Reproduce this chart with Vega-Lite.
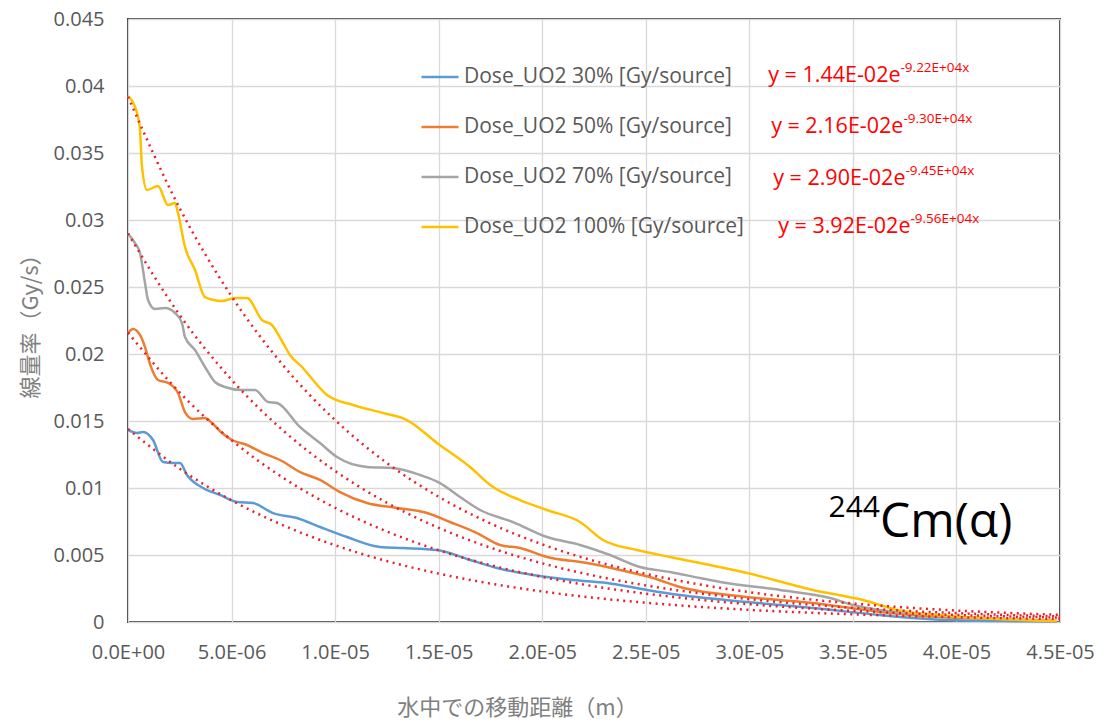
{
  "$schema": "https://vega.github.io/schema/vega-lite/v6.json",
  "width": 932,
  "height": 603,
  "autosize": {"type": "none"},
  "padding": {"left": 128, "top": 19, "right": 48, "bottom": 105},
  "background": "white",
  "config": {
    "view": {"stroke": "#404040", "strokeWidth": 2},
    "axis": {
      "domain": false,
      "ticks": false,
      "labelColor": "#595959",
      "labelFont": "Open Sans",
      "labelFontSize": 20,
      "gridColor": "#d9d9d9",
      "gridWidth": 1.3,
      "titleColor": "#808080",
      "titleFont": "Noto Sans CJK JP",
      "titleFontWeight": "normal",
      "titleFontSize": 22
    },
    "legend": {
      "labelFont": "Open Sans",
      "labelFontSize": 21,
      "labelColor": "#595959",
      "symbolStrokeWidth": 2.5
    }
  },
  "datasets": {
    "lines": [
      {"series": "Dose_UO2 30% [Gy/source]", "x": 0, "y": 0.01433},
      {"series": "Dose_UO2 30% [Gy/source]", "x": 0.435e-6, "y": 0.01410},
      {"series": "Dose_UO2 30% [Gy/source]", "x": 0.724e-6, "y": 0.01418},
      {"series": "Dose_UO2 30% [Gy/source]", "x": 1.207e-6, "y": 0.01358},
      {"series": "Dose_UO2 30% [Gy/source]", "x": 1.690e-6, "y": 0.01194},
      {"series": "Dose_UO2 30% [Gy/source]", "x": 2.173e-6, "y": 0.01187},
      {"series": "Dose_UO2 30% [Gy/source]", "x": 2.511e-6, "y": 0.01187},
      {"series": "Dose_UO2 30% [Gy/source]", "x": 2.849e-6, "y": 0.01097},
      {"series": "Dose_UO2 30% [Gy/source]", "x": 3.621e-6, "y": 0.01000},
      {"series": "Dose_UO2 30% [Gy/source]", "x": 4.442e-6, "y": 0.00948},
      {"series": "Dose_UO2 30% [Gy/source]", "x": 5.263e-6, "y": 0.00896},
      {"series": "Dose_UO2 30% [Gy/source]", "x": 6.035e-6, "y": 0.00888},
      {"series": "Dose_UO2 30% [Gy/source]", "x": 7.001e-6, "y": 0.00813},
      {"series": "Dose_UO2 30% [Gy/source]", "x": 8.160e-6, "y": 0.00776},
      {"series": "Dose_UO2 30% [Gy/source]", "x": 9.270e-6, "y": 0.00709},
      {"series": "Dose_UO2 30% [Gy/source]", "x": 10.574e-6, "y": 0.00634},
      {"series": "Dose_UO2 30% [Gy/source]", "x": 12.167e-6, "y": 0.00560},
      {"series": "Dose_UO2 30% [Gy/source]", "x": 13.278e-6, "y": 0.00552},
      {"series": "Dose_UO2 30% [Gy/source]", "x": 14.919e-6, "y": 0.00537},
      {"series": "Dose_UO2 30% [Gy/source]", "x": 16.513e-6, "y": 0.00463},
      {"series": "Dose_UO2 30% [Gy/source]", "x": 17.816e-6, "y": 0.00403},
      {"series": "Dose_UO2 30% [Gy/source]", "x": 19.555e-6, "y": 0.00351},
      {"series": "Dose_UO2 30% [Gy/source]", "x": 21.486e-6, "y": 0.00313},
      {"series": "Dose_UO2 30% [Gy/source]", "x": 23.128e-6, "y": 0.00291},
      {"series": "Dose_UO2 30% [Gy/source]", "x": 25.059e-6, "y": 0.00239},
      {"series": "Dose_UO2 30% [Gy/source]", "x": 26.652e-6, "y": 0.00201},
      {"series": "Dose_UO2 30% [Gy/source]", "x": 29.887e-6, "y": 0.00149},
      {"series": "Dose_UO2 30% [Gy/source]", "x": 33.074e-6, "y": 0.00104},
      {"series": "Dose_UO2 30% [Gy/source]", "x": 36.309e-6, "y": 0.00052},
      {"series": "Dose_UO2 30% [Gy/source]", "x": 39.544e-6, "y": 0.00015},
      {"series": "Dose_UO2 30% [Gy/source]", "x": 42.103e-6, "y": 0.00007},
      {"series": "Dose_UO2 30% [Gy/source]", "x": 44.855e-6, "y": 0.00004},

      {"series": "Dose_UO2 50% [Gy/source]", "x": 0, "y": 0.02157},
      {"series": "Dose_UO2 50% [Gy/source]", "x": 0.241e-6, "y": 0.02187},
      {"series": "Dose_UO2 50% [Gy/source]", "x": 0.579e-6, "y": 0.02142},
      {"series": "Dose_UO2 50% [Gy/source]", "x": 0.821e-6, "y": 0.02052},
      {"series": "Dose_UO2 50% [Gy/source]", "x": 1.062e-6, "y": 0.01925},
      {"series": "Dose_UO2 50% [Gy/source]", "x": 1.448e-6, "y": 0.01806},
      {"series": "Dose_UO2 50% [Gy/source]", "x": 1.931e-6, "y": 0.01784},
      {"series": "Dose_UO2 50% [Gy/source]", "x": 2.414e-6, "y": 0.01709},
      {"series": "Dose_UO2 50% [Gy/source]", "x": 2.752e-6, "y": 0.01567},
      {"series": "Dose_UO2 50% [Gy/source]", "x": 3.138e-6, "y": 0.01515},
      {"series": "Dose_UO2 50% [Gy/source]", "x": 3.718e-6, "y": 0.01522},
      {"series": "Dose_UO2 50% [Gy/source]", "x": 4.056e-6, "y": 0.01485},
      {"series": "Dose_UO2 50% [Gy/source]", "x": 4.539e-6, "y": 0.01410},
      {"series": "Dose_UO2 50% [Gy/source]", "x": 5.021e-6, "y": 0.01358},
      {"series": "Dose_UO2 50% [Gy/source]", "x": 5.746e-6, "y": 0.01321},
      {"series": "Dose_UO2 50% [Gy/source]", "x": 6.518e-6, "y": 0.01261},
      {"series": "Dose_UO2 50% [Gy/source]", "x": 7.339e-6, "y": 0.01209},
      {"series": "Dose_UO2 50% [Gy/source]", "x": 8.305e-6, "y": 0.01119},
      {"series": "Dose_UO2 50% [Gy/source]", "x": 9.270e-6, "y": 0.01060},
      {"series": "Dose_UO2 50% [Gy/source]", "x": 10.236e-6, "y": 0.00970},
      {"series": "Dose_UO2 50% [Gy/source]", "x": 11.540e-6, "y": 0.00888},
      {"series": "Dose_UO2 50% [Gy/source]", "x": 12.988e-6, "y": 0.00851},
      {"series": "Dose_UO2 50% [Gy/source]", "x": 14.437e-6, "y": 0.00813},
      {"series": "Dose_UO2 50% [Gy/source]", "x": 15.547e-6, "y": 0.00746},
      {"series": "Dose_UO2 50% [Gy/source]", "x": 16.851e-6, "y": 0.00664},
      {"series": "Dose_UO2 50% [Gy/source]", "x": 17.961e-6, "y": 0.00575},
      {"series": "Dose_UO2 50% [Gy/source]", "x": 18.927e-6, "y": 0.00552},
      {"series": "Dose_UO2 50% [Gy/source]", "x": 20.231e-6, "y": 0.00485},
      {"series": "Dose_UO2 50% [Gy/source]", "x": 22.162e-6, "y": 0.00440},
      {"series": "Dose_UO2 50% [Gy/source]", "x": 23.755e-6, "y": 0.00388},
      {"series": "Dose_UO2 50% [Gy/source]", "x": 25.349e-6, "y": 0.00328},
      {"series": "Dose_UO2 50% [Gy/source]", "x": 26.652e-6, "y": 0.00261},
      {"series": "Dose_UO2 50% [Gy/source]", "x": 29.887e-6, "y": 0.00187},
      {"series": "Dose_UO2 50% [Gy/source]", "x": 33.074e-6, "y": 0.00142},
      {"series": "Dose_UO2 50% [Gy/source]", "x": 36.309e-6, "y": 0.00075},
      {"series": "Dose_UO2 50% [Gy/source]", "x": 39.206e-6, "y": 0.00037},
      {"series": "Dose_UO2 50% [Gy/source]", "x": 42.103e-6, "y": 0.00022},
      {"series": "Dose_UO2 50% [Gy/source]", "x": 44.855e-6, "y": 0.00007},

      {"series": "Dose_UO2 70% [Gy/source]", "x": 0, "y": 0.02896},
      {"series": "Dose_UO2 70% [Gy/source]", "x": 0.338e-6, "y": 0.02828},
      {"series": "Dose_UO2 70% [Gy/source]", "x": 0.579e-6, "y": 0.02754},
      {"series": "Dose_UO2 70% [Gy/source]", "x": 0.821e-6, "y": 0.02530},
      {"series": "Dose_UO2 70% [Gy/source]", "x": 0.966e-6, "y": 0.02403},
      {"series": "Dose_UO2 70% [Gy/source]", "x": 1.304e-6, "y": 0.02336},
      {"series": "Dose_UO2 70% [Gy/source]", "x": 1.786e-6, "y": 0.02343},
      {"series": "Dose_UO2 70% [Gy/source]", "x": 2.269e-6, "y": 0.02306},
      {"series": "Dose_UO2 70% [Gy/source]", "x": 2.607e-6, "y": 0.02231},
      {"series": "Dose_UO2 70% [Gy/source]", "x": 2.752e-6, "y": 0.02127},
      {"series": "Dose_UO2 70% [Gy/source]", "x": 3.235e-6, "y": 0.02030},
      {"series": "Dose_UO2 70% [Gy/source]", "x": 3.718e-6, "y": 0.01903},
      {"series": "Dose_UO2 70% [Gy/source]", "x": 4.201e-6, "y": 0.01791},
      {"series": "Dose_UO2 70% [Gy/source]", "x": 4.683e-6, "y": 0.01754},
      {"series": "Dose_UO2 70% [Gy/source]", "x": 5.504e-6, "y": 0.01731},
      {"series": "Dose_UO2 70% [Gy/source]", "x": 6.132e-6, "y": 0.01731},
      {"series": "Dose_UO2 70% [Gy/source]", "x": 6.760e-6, "y": 0.01642},
      {"series": "Dose_UO2 70% [Gy/source]", "x": 7.194e-6, "y": 0.01634},
      {"series": "Dose_UO2 70% [Gy/source]", "x": 8.305e-6, "y": 0.01455},
      {"series": "Dose_UO2 70% [Gy/source]", "x": 9.270e-6, "y": 0.01336},
      {"series": "Dose_UO2 70% [Gy/source]", "x": 10.091e-6, "y": 0.01231},
      {"series": "Dose_UO2 70% [Gy/source]", "x": 11.540e-6, "y": 0.01157},
      {"series": "Dose_UO2 70% [Gy/source]", "x": 12.795e-6, "y": 0.01149},
      {"series": "Dose_UO2 70% [Gy/source]", "x": 14.099e-6, "y": 0.01097},
      {"series": "Dose_UO2 70% [Gy/source]", "x": 15.064e-6, "y": 0.01037},
      {"series": "Dose_UO2 70% [Gy/source]", "x": 16.030e-6, "y": 0.00933},
      {"series": "Dose_UO2 70% [Gy/source]", "x": 16.996e-6, "y": 0.00836},
      {"series": "Dose_UO2 70% [Gy/source]", "x": 18.589e-6, "y": 0.00746},
      {"series": "Dose_UO2 70% [Gy/source]", "x": 20.231e-6, "y": 0.00634},
      {"series": "Dose_UO2 70% [Gy/source]", "x": 21.824e-6, "y": 0.00575},
      {"series": "Dose_UO2 70% [Gy/source]", "x": 23.272e-6, "y": 0.00500},
      {"series": "Dose_UO2 70% [Gy/source]", "x": 24.721e-6, "y": 0.00410},
      {"series": "Dose_UO2 70% [Gy/source]", "x": 26.169e-6, "y": 0.00373},
      {"series": "Dose_UO2 70% [Gy/source]", "x": 27.618e-6, "y": 0.00328},
      {"series": "Dose_UO2 70% [Gy/source]", "x": 28.584e-6, "y": 0.00299},
      {"series": "Dose_UO2 70% [Gy/source]", "x": 31.481e-6, "y": 0.00239},
      {"series": "Dose_UO2 70% [Gy/source]", "x": 33.895e-6, "y": 0.00179},
      {"series": "Dose_UO2 70% [Gy/source]", "x": 35.005e-6, "y": 0.00127},
      {"series": "Dose_UO2 70% [Gy/source]", "x": 36.309e-6, "y": 0.00090},
      {"series": "Dose_UO2 70% [Gy/source]", "x": 38.723e-6, "y": 0.00052},
      {"series": "Dose_UO2 70% [Gy/source]", "x": 42.103e-6, "y": 0.00022},
      {"series": "Dose_UO2 70% [Gy/source]", "x": 44.855e-6, "y": 0.00007},

      {"series": "Dose_UO2 100% [Gy/source]", "x": 0, "y": 0.03925},
      {"series": "Dose_UO2 100% [Gy/source]", "x": 0.435e-6, "y": 0.03799},
      {"series": "Dose_UO2 100% [Gy/source]", "x": 0.579e-6, "y": 0.03672},
      {"series": "Dose_UO2 100% [Gy/source]", "x": 0.676e-6, "y": 0.03396},
      {"series": "Dose_UO2 100% [Gy/source]", "x": 0.917e-6, "y": 0.03224},
      {"series": "Dose_UO2 100% [Gy/source]", "x": 1.448e-6, "y": 0.03254},
      {"series": "Dose_UO2 100% [Gy/source]", "x": 1.931e-6, "y": 0.03112},
      {"series": "Dose_UO2 100% [Gy/source]", "x": 2.269e-6, "y": 0.03127},
      {"series": "Dose_UO2 100% [Gy/source]", "x": 2.414e-6, "y": 0.03052},
      {"series": "Dose_UO2 100% [Gy/source]", "x": 2.752e-6, "y": 0.02799},
      {"series": "Dose_UO2 100% [Gy/source]", "x": 3.235e-6, "y": 0.02627},
      {"series": "Dose_UO2 100% [Gy/source]", "x": 3.718e-6, "y": 0.02425},
      {"series": "Dose_UO2 100% [Gy/source]", "x": 4.539e-6, "y": 0.02396},
      {"series": "Dose_UO2 100% [Gy/source]", "x": 5.166e-6, "y": 0.02418},
      {"series": "Dose_UO2 100% [Gy/source]", "x": 5.746e-6, "y": 0.02418},
      {"series": "Dose_UO2 100% [Gy/source]", "x": 6.470e-6, "y": 0.02254},
      {"series": "Dose_UO2 100% [Gy/source]", "x": 6.953e-6, "y": 0.02216},
      {"series": "Dose_UO2 100% [Gy/source]", "x": 7.484e-6, "y": 0.02082},
      {"series": "Dose_UO2 100% [Gy/source]", "x": 7.822e-6, "y": 0.01993},
      {"series": "Dose_UO2 100% [Gy/source]", "x": 8.401e-6, "y": 0.01903},
      {"series": "Dose_UO2 100% [Gy/source]", "x": 8.932e-6, "y": 0.01806},
      {"series": "Dose_UO2 100% [Gy/source]", "x": 9.608e-6, "y": 0.01694},
      {"series": "Dose_UO2 100% [Gy/source]", "x": 10.864e-6, "y": 0.01619},
      {"series": "Dose_UO2 100% [Gy/source]", "x": 12.312e-6, "y": 0.01560},
      {"series": "Dose_UO2 100% [Gy/source]", "x": 13.471e-6, "y": 0.01507},
      {"series": "Dose_UO2 100% [Gy/source]", "x": 14.919e-6, "y": 0.01336},
      {"series": "Dose_UO2 100% [Gy/source]", "x": 16.513e-6, "y": 0.01157},
      {"series": "Dose_UO2 100% [Gy/source]", "x": 17.623e-6, "y": 0.01007},
      {"series": "Dose_UO2 100% [Gy/source]", "x": 18.927e-6, "y": 0.00910},
      {"series": "Dose_UO2 100% [Gy/source]", "x": 20.230e-6, "y": 0.00836},
      {"series": "Dose_UO2 100% [Gy/source]", "x": 21.824e-6, "y": 0.00746},
      {"series": "Dose_UO2 100% [Gy/source]", "x": 22.934e-6, "y": 0.00612},
      {"series": "Dose_UO2 100% [Gy/source]", "x": 24.576e-6, "y": 0.00537},
      {"series": "Dose_UO2 100% [Gy/source]", "x": 26.169e-6, "y": 0.00485},
      {"series": "Dose_UO2 100% [Gy/source]", "x": 27.618e-6, "y": 0.00440},
      {"series": "Dose_UO2 100% [Gy/source]", "x": 29.887e-6, "y": 0.00366},
      {"series": "Dose_UO2 100% [Gy/source]", "x": 33.074e-6, "y": 0.00239},
      {"series": "Dose_UO2 100% [Gy/source]", "x": 35.488e-6, "y": 0.00164},
      {"series": "Dose_UO2 100% [Gy/source]", "x": 37.130e-6, "y": 0.00090},
      {"series": "Dose_UO2 100% [Gy/source]", "x": 39.689e-6, "y": 0.00045},
      {"series": "Dose_UO2 100% [Gy/source]", "x": 42.103e-6, "y": 0.00022},
      {"series": "Dose_UO2 100% [Gy/source]", "x": 44.855e-6, "y": 0.00007}
    ],
    "fits": [
      {"fit": "30", "x": 0, "y": 0.0144},
      {"fit": "30", "x": 2.5e-6, "y": 0.011436},
      {"fit": "30", "x": 5.0e-6, "y": 0.009081},
      {"fit": "30", "x": 7.5e-6, "y": 0.007212},
      {"fit": "30", "x": 10.0e-6, "y": 0.005727},
      {"fit": "30", "x": 12.5e-6, "y": 0.004548},
      {"fit": "30", "x": 15.0e-6, "y": 0.003612},
      {"fit": "30", "x": 17.5e-6, "y": 0.002868},
      {"fit": "30", "x": 20.0e-6, "y": 0.002278},
      {"fit": "30", "x": 22.5e-6, "y": 0.001809},
      {"fit": "30", "x": 25.0e-6, "y": 0.001437},
      {"fit": "30", "x": 27.5e-6, "y": 0.001141},
      {"fit": "30", "x": 30.0e-6, "y": 0.000906},
      {"fit": "30", "x": 32.5e-6, "y": 0.000720},
      {"fit": "30", "x": 35.0e-6, "y": 0.000571},
      {"fit": "30", "x": 37.5e-6, "y": 0.000454},
      {"fit": "30", "x": 40.0e-6, "y": 0.000360},
      {"fit": "30", "x": 42.5e-6, "y": 0.000286},
      {"fit": "30", "x": 45.0e-6, "y": 0.000227},
      {"fit": "50", "x": 0, "y": 0.0216},
      {"fit": "50", "x": 2.5e-6, "y": 0.017119},
      {"fit": "50", "x": 5.0e-6, "y": 0.013568},
      {"fit": "50", "x": 7.5e-6, "y": 0.010753},
      {"fit": "50", "x": 10.0e-6, "y": 0.008522},
      {"fit": "50", "x": 12.5e-6, "y": 0.006754},
      {"fit": "50", "x": 15.0e-6, "y": 0.005353},
      {"fit": "50", "x": 17.5e-6, "y": 0.004243},
      {"fit": "50", "x": 20.0e-6, "y": 0.003363},
      {"fit": "50", "x": 22.5e-6, "y": 0.002665},
      {"fit": "50", "x": 25.0e-6, "y": 0.002112},
      {"fit": "50", "x": 27.5e-6, "y": 0.001674},
      {"fit": "50", "x": 30.0e-6, "y": 0.001327},
      {"fit": "50", "x": 32.5e-6, "y": 0.001051},
      {"fit": "50", "x": 35.0e-6, "y": 0.000833},
      {"fit": "50", "x": 37.5e-6, "y": 0.000660},
      {"fit": "50", "x": 40.0e-6, "y": 0.000523},
      {"fit": "50", "x": 42.5e-6, "y": 0.000415},
      {"fit": "50", "x": 45.0e-6, "y": 0.000329},
      {"fit": "70", "x": 0, "y": 0.029},
      {"fit": "70", "x": 2.5e-6, "y": 0.022898},
      {"fit": "70", "x": 5.0e-6, "y": 0.018080},
      {"fit": "70", "x": 7.5e-6, "y": 0.014275},
      {"fit": "70", "x": 10.0e-6, "y": 0.011272},
      {"fit": "70", "x": 12.5e-6, "y": 0.008900},
      {"fit": "70", "x": 15.0e-6, "y": 0.007027},
      {"fit": "70", "x": 17.5e-6, "y": 0.005548},
      {"fit": "70", "x": 20.0e-6, "y": 0.004381},
      {"fit": "70", "x": 22.5e-6, "y": 0.003459},
      {"fit": "70", "x": 25.0e-6, "y": 0.002731},
      {"fit": "70", "x": 27.5e-6, "y": 0.002157},
      {"fit": "70", "x": 30.0e-6, "y": 0.001703},
      {"fit": "70", "x": 32.5e-6, "y": 0.001344},
      {"fit": "70", "x": 35.0e-6, "y": 0.001062},
      {"fit": "70", "x": 37.5e-6, "y": 0.000838},
      {"fit": "70", "x": 40.0e-6, "y": 0.000662},
      {"fit": "70", "x": 42.5e-6, "y": 0.000523},
      {"fit": "70", "x": 45.0e-6, "y": 0.000413},
      {"fit": "100", "x": 0, "y": 0.0392},
      {"fit": "100", "x": 2.5e-6, "y": 0.030867},
      {"fit": "100", "x": 5.0e-6, "y": 0.024305},
      {"fit": "100", "x": 7.5e-6, "y": 0.019138},
      {"fit": "100", "x": 10.0e-6, "y": 0.015070},
      {"fit": "100", "x": 12.5e-6, "y": 0.011866},
      {"fit": "100", "x": 15.0e-6, "y": 0.009344},
      {"fit": "100", "x": 17.5e-6, "y": 0.007357},
      {"fit": "100", "x": 20.0e-6, "y": 0.005794},
      {"fit": "100", "x": 22.5e-6, "y": 0.004562},
      {"fit": "100", "x": 25.0e-6, "y": 0.003592},
      {"fit": "100", "x": 27.5e-6, "y": 0.002828},
      {"fit": "100", "x": 30.0e-6, "y": 0.002227},
      {"fit": "100", "x": 32.5e-6, "y": 0.001754},
      {"fit": "100", "x": 35.0e-6, "y": 0.001381},
      {"fit": "100", "x": 37.5e-6, "y": 0.001087},
      {"fit": "100", "x": 40.0e-6, "y": 0.000856},
      {"fit": "100", "x": 42.5e-6, "y": 0.000674},
      {"fit": "100", "x": 45.0e-6, "y": 0.000531}
    ],
    "eqs": [
      {"main": "y = 1.44E-02e", "sup": "-9.22E+04x", "x": 37.30e-6, "y": 0.04075},
      {"main": "y = 2.16E-02e", "sup": "-9.30E+04x", "x": 37.44e-6, "y": 0.03694},
      {"main": "y = 2.90E-02e", "sup": "-9.45E+04x", "x": 37.54e-6, "y": 0.03306},
      {"main": "y = 3.92E-02e", "sup": "-9.56E+04x", "x": 37.78e-6, "y": 0.02948}
    ],
    "nuclide": [
      {"main": "Cm(α)", "sup": "244", "x": 36.31e-6, "y": 0.00634, "ysup": 0.00784}
    ]
  },
  "layer": [
    {
      "data": {"name": "lines"},
      "mark": {"type": "line", "strokeWidth": 2.5, "interpolate": "monotone"},
      "encoding": {
        "x": {
          "field": "x", "type": "quantitative",
          "scale": {"domain": [0, 4.5e-5], "nice": false, "zero": true},
          "axis": {
            "values": [0, 5e-6, 1e-5, 1.5e-5, 2e-5, 2.5e-5, 3e-5, 3.5e-5, 4e-5, 4.5e-5],
            "labelExpr": "['0.0E+00','5.0E-06','1.0E-05','1.5E-05','2.0E-05','2.5E-05','3.0E-05','3.5E-05','4.0E-05','4.5E-05'][round(datum.value/5e-6)]",
            "labelPadding": 20,
            "title": "水中での移動距離（m）",
            "titleX": 389,
            "titlePadding": 35,
            "labelFlush": false
          }
        },
        "y": {
          "field": "y", "type": "quantitative",
          "scale": {"domain": [0, 0.045], "nice": false},
          "axis": {
            "values": [0, 0.005, 0.01, 0.015, 0.02, 0.025, 0.03, 0.035, 0.04, 0.045],
            "format": "~f",
            "labelPadding": 24,
            "title": "線量率（Gy/s）",
            "titlePadding": 11
          }
        },
        "color": {
          "field": "series", "type": "nominal",
          "scale": {
            "domain": ["Dose_UO2 30% [Gy/source]", "Dose_UO2 50% [Gy/source]", "Dose_UO2 70% [Gy/source]", "Dose_UO2 100% [Gy/source]"],
            "range": ["#5b9bd5", "#ed7d31", "#a5a5a5", "#ffc000"]
          },
          "legend": {
            "title": null,
            "orient": "none",
            "legendX": 292,
            "legendY": 38,
            "symbolType": "stroke",
            "symbolSize": 1369,
            "labelOffset": 4,
            "rowPadding": 20,
            "labelLimit": 400
          }
        }
      }
    },
    {
      "data": {"name": "fits"},
      "mark": {"type": "line", "strokeWidth": 2.5, "color": "#e8202a", "strokeDash": [2, 4.5], "interpolate": "monotone"},
      "encoding": {
        "x": {"field": "x", "type": "quantitative"},
        "y": {"field": "y", "type": "quantitative"},
        "detail": {"field": "fit"}
      }
    },
    {
      "data": {"name": "eqs"},
      "mark": {"type": "text", "align": "right", "baseline": "middle", "font": "Open Sans", "fontSize": 21.5, "color": "#ff0000"},
      "encoding": {
        "x": {"field": "x", "type": "quantitative"},
        "y": {"field": "y", "type": "quantitative"},
        "text": {"field": "main"}
      }
    },
    {
      "data": {"name": "eqs"},
      "mark": {"type": "text", "align": "left", "baseline": "middle", "font": "Open Sans", "fontSize": 13.5, "color": "#ff0000", "dy": -8},
      "encoding": {
        "x": {"field": "x", "type": "quantitative"},
        "y": {"field": "y", "type": "quantitative"},
        "text": {"field": "sup"}
      }
    },
    {
      "data": {"name": "nuclide"},
      "mark": {"type": "text", "align": "left", "baseline": "alphabetic", "font": "Open Sans", "fontSize": 48, "color": "#000000"},
      "encoding": {
        "x": {"field": "x", "type": "quantitative"},
        "y": {"field": "y", "type": "quantitative"},
        "text": {"field": "main"}
      }
    },
    {
      "data": {"name": "nuclide"},
      "mark": {"type": "text", "align": "right", "baseline": "alphabetic", "font": "Open Sans", "fontSize": 30, "color": "#000000"},
      "encoding": {
        "x": {"field": "x", "type": "quantitative"},
        "y": {"field": "ysup", "type": "quantitative"},
        "text": {"field": "sup"}
      }
    }
  ]
}
